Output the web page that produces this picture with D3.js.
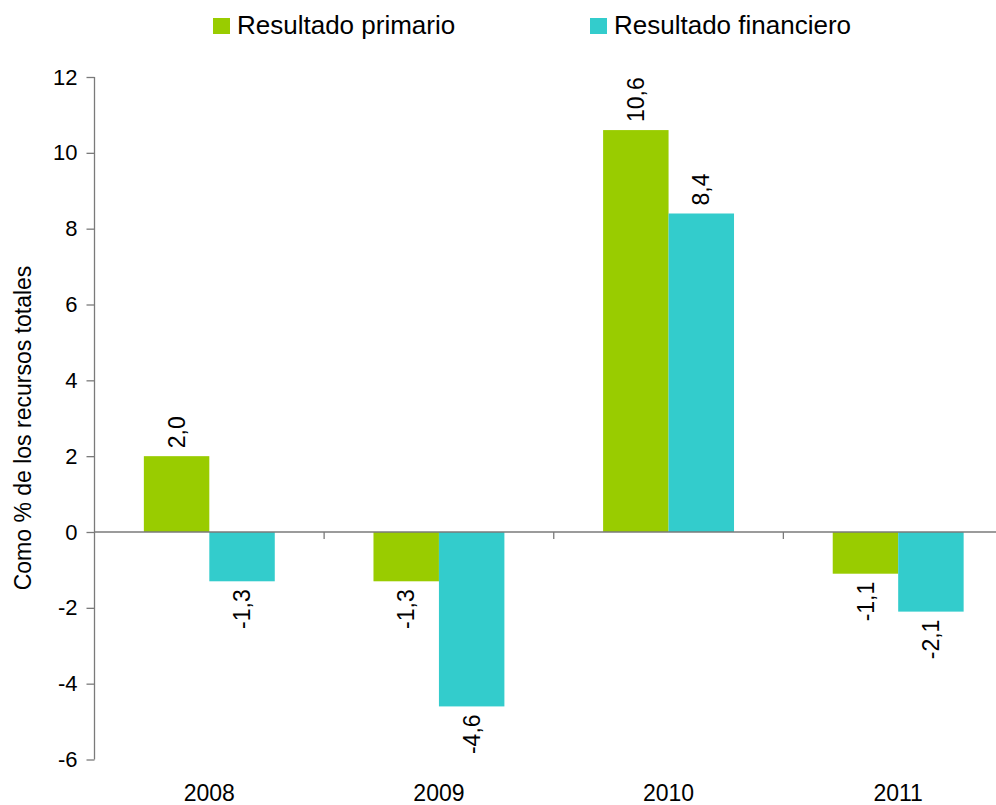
<!DOCTYPE html>
<html>
<head>
<meta charset="utf-8">
<script src="https://cdn.jsdelivr.net/npm/d3@7.9.0/dist/d3.min.js"></script>
<style>
  html, body { margin: 0; padding: 0; background: #fff; }
  svg { display: block; font-family: "Liberation Sans", Arial, sans-serif; }
</style>
</head>
<body>
<div id="chart"></div>
<script>
// ── Data ─────────────────────────────────────────────────────────────────────
const years = ['2008', '2009', '2010', '2011'];
const seriesNames = ['Resultado primario', 'Resultado financiero'];
const primario = [2.0, -1.3, 10.6, -1.1];
const financiero = [-1.3, -4.6, 8.4, -2.1];
const yTicks = [-6, -4, -2, 0, 2, 4, 6, 8, 10, 12];
const colors = ['#99cc00', '#33cccc'];

const seriesValues = [primario, financiero];
const rows = years.flatMap((year, i) =>
  seriesNames.map((name, s) => ({ year, name, s, value: seriesValues[s][i] }))
);

// ── Layout ───────────────────────────────────────────────────────────────────
const width = 996;
const height = 805;
const plot = { left: 94.5, right: 1013, top: 77, bottom: 759.5 };
const axisColor = '#7a7a7a';
const fmt = (v) => d3.format('.1f')(v).replace('.', ',').replace('−', '-');

const svg = d3
  .select('#chart')
  .append('svg')
  .attr('width', width)
  .attr('height', height);

const x0 = d3.scaleBand().domain(years).range([plot.left, plot.right]).padding(0);
const x1 = d3
  .scaleBand()
  .domain(seriesNames)
  .range([0, x0.bandwidth()])
  .paddingInner(0)
  .paddingOuter(0.754);
const y = d3.scaleLinear().domain([-6, 12]).range([plot.bottom, plot.top]);

// ── Bars ─────────────────────────────────────────────────────────────────────
svg
  .append('g')
  .selectAll('rect')
  .data(rows)
  .join('rect')
  .attr('x', (d) => x0(d.year) + x1(d.name))
  .attr('width', x1.bandwidth())
  .attr('y', (d) => y(Math.max(0, d.value)))
  .attr('height', (d) => Math.abs(y(d.value) - y(0)))
  .attr('fill', (d) => colors[d.s]);

// ── Y axis ───────────────────────────────────────────────────────────────────
const yAxis = svg
  .append('g')
  .attr('transform', `translate(${plot.left}, 0)`)
  .call(
    d3.axisLeft(y).tickValues(yTicks).tickSize(8).tickPadding(9).tickFormat((d) => String(d))
  )
  .attr('font-family', null)
  .attr('font-size', 22);
yAxis.selectAll('path, line').attr('stroke', axisColor).attr('stroke-width', 1.3);
yAxis.selectAll('text').attr('fill', '#000');
yAxis.select('.domain').attr('d', `M0,${plot.top}V${plot.bottom}`);

// ── Zero line with category boundary ticks ──────────────────────────────────
svg
  .append('line')
  .attr('x1', plot.left)
  .attr('x2', width)
  .attr('y1', y(0))
  .attr('y2', y(0))
  .attr('stroke', axisColor)
  .attr('stroke-width', 1.3);

svg
  .append('g')
  .selectAll('line')
  .data(years.slice(1))
  .join('line')
  .attr('x1', (d) => x0(d))
  .attr('x2', (d) => x0(d))
  .attr('y1', y(0))
  .attr('y2', y(0) + 7)
  .attr('stroke', axisColor)
  .attr('stroke-width', 1.3);

// Year labels along the bottom
const xAxis = svg
  .append('g')
  .attr('transform', `translate(0, ${plot.bottom})`)
  .call(d3.axisBottom(x0).tickSize(0).tickPadding(25))
  .attr('font-family', null)
  .attr('font-size', 23);
xAxis.select('.domain').remove();
xAxis.selectAll('text').attr('fill', '#000');

// ── Value labels (rotated) ──────────────────────────────────────────────────
svg
  .append('g')
  .selectAll('text')
  .data(rows)
  .join('text')
  .attr('transform', (d) => {
    const cx = x0(d.year) + x1(d.name) + x1.bandwidth() / 2;
    const cy = d.value >= 0 ? y(d.value) - 8 : y(d.value) + 8;
    return `translate(${cx}, ${cy}) rotate(-90)`;
  })
  .attr('text-anchor', (d) => (d.value >= 0 ? 'start' : 'end'))
  .attr('dy', '0.35em')
  .attr('font-size', 23)
  .attr('fill', '#000')
  .text((d) => fmt(d.value));

// ── Y axis title ─────────────────────────────────────────────────────────────
svg
  .append('text')
  .attr('transform', 'translate(23, 428) rotate(-90)')
  .attr('text-anchor', 'middle')
  .attr('dy', '0.35em')
  .attr('font-size', 23)
  .attr('fill', '#000')
  .text('Como % de los recursos totales');

// ── Legend ───────────────────────────────────────────────────────────────────
const legendX = [213, 590];
const legend = svg
  .append('g')
  .selectAll('g')
  .data(seriesNames)
  .join('g')
  .attr('transform', (d, i) => `translate(${legendX[i]}, 0)`);

legend
  .append('rect')
  .attr('y', 18)
  .attr('width', 17)
  .attr('height', 16)
  .attr('fill', (d, i) => colors[i]);

legend
  .append('text')
  .attr('x', 24)
  .attr('y', 34)
  .attr('font-size', 26)
  .attr('fill', '#000')
  .text((d) => d);
</script>
</body>
</html>
